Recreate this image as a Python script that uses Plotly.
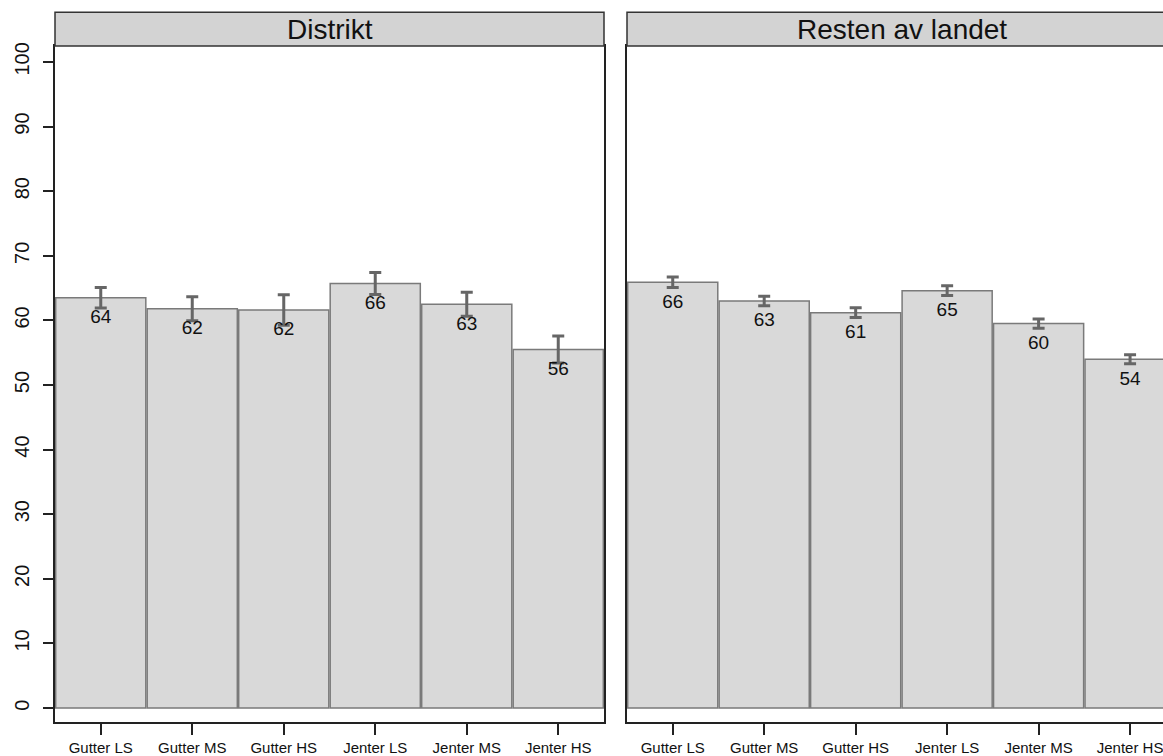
import plotly.graph_objects as go

categories = ["Gutter LS", "Gutter MS", "Gutter HS", "Jenter LS", "Jenter MS", "Jenter HS"]
panels = ["Distrikt", "Resten av landet"]

distrikt_values = [63.5, 61.8, 61.6, 65.7, 62.5, 55.5]
distrikt_errors = [1.6, 1.85, 2.35, 1.7, 1.85, 2.1]
distrikt_labels = ["64", "62", "62", "66", "63", "56"]

resten_values = [65.9, 63.0, 61.2, 64.6, 59.5, 54.0]
resten_errors = [0.8, 0.75, 0.75, 0.75, 0.7, 0.7]
resten_labels = ["66", "63", "61", "65", "60", "54"]

y_ticks = [0, 10, 20, 30, 40, 50, 60, 70, 80, 90, 100]

FONT = "Arial, Liberation Sans, sans-serif"
BAR_FILL = "#d9d9d9"
BAR_LINE = "#7a7a7a"
ERR_COL = "#666666"
AXIS_COL = "#222222"
LABEL_OFFSET = 3.2

W, H = 1163, 756
ML, MR, MT, MB = 55, 0, 46, 30
plot_w = W - ML - MR
plot_h = H - MT - MB
left_end = (604 - ML) / plot_w
right_start = (627 - ML) / plot_w
strip_h = 34 / plot_h

fig = go.Figure()

for vals, errs, labs, xa, ya in [
    (distrikt_values, distrikt_errors, distrikt_labels, "x", "y"),
    (resten_values, resten_errors, resten_labels, "x2", "y2"),
]:
    fig.add_trace(go.Bar(
        x=categories, y=vals, xaxis=xa, yaxis=ya,
        marker=dict(color=BAR_FILL, line=dict(color=BAR_LINE, width=1.5)),
        error_y=dict(type="data", array=errs, color=ERR_COL, thickness=3, width=6),
        showlegend=False, hoverinfo="skip",
    ))
    fig.add_trace(go.Scatter(
        x=categories, y=[v - LABEL_OFFSET for v in vals], xaxis=xa, yaxis=ya,
        mode="text", text=labs, textposition="middle center",
        textfont=dict(family=FONT, size=19, color="#111111"),
        showlegend=False, hoverinfo="skip",
    ))

yrange = [-2.15, 102.46]
common_x = dict(type="category", showline=True, linecolor=AXIS_COL, linewidth=1.5,
                ticks="outside", ticklen=11, tickwidth=1.5, tickcolor=AXIS_COL,
                tickfont=dict(family=FONT, size=15, color="#111111"),
                showgrid=False, zeroline=False, mirror=True)

fig.update_layout(
    width=W, height=H,
    margin=dict(l=ML, r=MR, t=MT, b=MB),
    paper_bgcolor="white", plot_bgcolor="white",
    bargap=0.015,
    xaxis=dict(domain=[0, left_end], range=[-0.5, 5.5], anchor="y", **common_x),
    xaxis2=dict(domain=[right_start, 1], range=[-0.5, 5.36], anchor="y2", **common_x),
    yaxis=dict(range=yrange, tickvals=y_ticks, ticktext=[str(t) for t in y_ticks],
               tickangle=-90, ticks="outside", ticklen=10, tickwidth=1.5, tickcolor=AXIS_COL,
               tickfont=dict(family=FONT, size=20, color="#111111"), ticklabelstandoff=6,
               showline=True, linecolor=AXIS_COL, linewidth=1.5, mirror=True,
               showgrid=False, zeroline=False, anchor="x"),
    yaxis2=dict(range=yrange, showticklabels=False, ticks="",
                showline=True, linecolor=AXIS_COL, linewidth=1.5, mirror=False,
                showgrid=False, zeroline=False, anchor="x2", matches="y"),
)

# strips
for x0, x1, name in [(0, left_end, panels[0]), (right_start, 1.03, panels[1])]:
    fig.add_shape(type="rect", xref="paper", yref="paper", x0=x0, x1=x1, y0=1, y1=1 + strip_h,
                  fillcolor="#d3d3d3", line=dict(color="#333333", width=1.5), layer="above")
    cx = (x0 + (x0 + left_end)) / 2
    fig.add_annotation(xref="paper", yref="paper", x=cx, y=1 + strip_h / 2, text=name,
                       showarrow=False, xanchor="center", yanchor="middle",
                       font=dict(family=FONT, size=28, color="#111111"))

fig.write_html("out.html", config={"displayModeBar": False},
               post_script="document.body.style.margin='0px';document.body.style.overflow='hidden';")
